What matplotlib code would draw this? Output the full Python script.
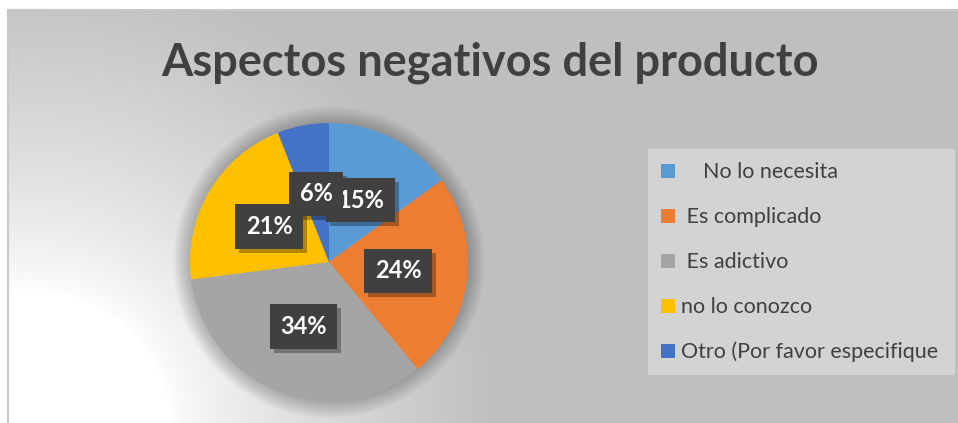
import numpy as np
import matplotlib
matplotlib.use("Agg")
import matplotlib.pyplot as plt
from matplotlib.patches import Rectangle, Circle
from matplotlib.transforms import offset_copy

labels = ["    No lo necesita", " Es complicado", " Es adictivo", "no lo conozco", "Otro (Por favor especifique"]
values = [15, 24, 34, 21, 6]
colors = ["#5B9BD5", "#ED7D31", "#A5A5A5", "#FFC000", "#4472C4"]
title = "Aspectos negativos del producto"

W, H = 958, 423
plt.rcParams["font.family"] = ["Lato", "DejaVu Sans"]
fig = plt.figure(figsize=(W / 100, H / 100), dpi=100)
fig.patch.set_facecolor("white")

# background axes in pixel coords
bg = fig.add_axes([0, 0, 1, 1])
bg.set_xlim(0, W)
bg.set_ylim(H, 0)
bg.axis("off")

# radial gradient, white in the lower left corner
yy, xx = np.mgrid[10:H, 8:W]
d = np.hypot(xx - 30, yy - 430)
t = np.clip((d - 140) / 330, 0, 1) ** 0.75
grey = 255 - (255 - 191) * t
img = np.dstack([grey, grey, grey]) / 255
bg.imshow(img, extent=[8, W, H, 10], aspect="auto", zorder=0)
bg.plot([8.5, 8.5], [H, 10.5], color="#C8C8C8", lw=1.5, zorder=1)
bg.plot([8.5, W], [10.5, 10.5], color="#C8C8C8", lw=1.5, zorder=1)

# title
fig.text(490 / W, 1 - 76 / H, title, ha="center", va="baseline",
         fontsize=32.5, fontweight="bold", color="#404040")

# pie
cx, cy, r = 329, 262, 139
ax = fig.add_axes([(cx - r) / W, (H - cy - r) / H, 2 * r / W, 2 * r / H])
ax.axis("off")
# soft glow round the pie
for k in range(12):
    ax.add_patch(Circle((0, 0), 1 + 0.01 * (k + 1), color="black",
                        alpha=0.018, lw=0, zorder=0, clip_on=False))

wedges, texts, autotexts = ax.pie(
    values, colors=colors, startangle=90, counterclock=False,
    autopct="%1.0f%%", pctdistance=0.5,
    textprops=dict(color="white", fontsize=17, fontweight="bold"),
    wedgeprops=dict(linewidth=0))
ax.set_xlim(-1, 1)
ax.set_ylim(-1, 1)
for w in wedges:
    w.set_zorder(2)
for at in autotexts:
    at.set_zorder(5)
    at.set_bbox(dict(boxstyle="square,pad=0.45", facecolor="#404040", edgecolor="none"))
    x, y = at.get_position()
    ax.text(x, y, at.get_text(), ha="center", va="center", fontsize=17,
            fontweight="bold", color="none", zorder=4,
            transform=offset_copy(ax.transData, fig=fig, x=4, y=-4, units="dots"),
            bbox=dict(boxstyle="square,pad=0.45", facecolor="black",
                      edgecolor="none", alpha=0.3))

# legend
bg.add_patch(Rectangle((648, 149), 307, 226, facecolor="#D3D3D3", edgecolor="none", zorder=2))
for i, (lab, col) in enumerate(zip(labels, colors)):
    yc = 171 + 45 * i
    bg.add_patch(Rectangle((661, yc - 7), 14, 14, facecolor=col, edgecolor="none", zorder=3))
    bg.text(681, yc + 1, lab, ha="left", va="center", fontsize=15.5, color="#404040", zorder=3)

fig.savefig("out.png", dpi=100)
